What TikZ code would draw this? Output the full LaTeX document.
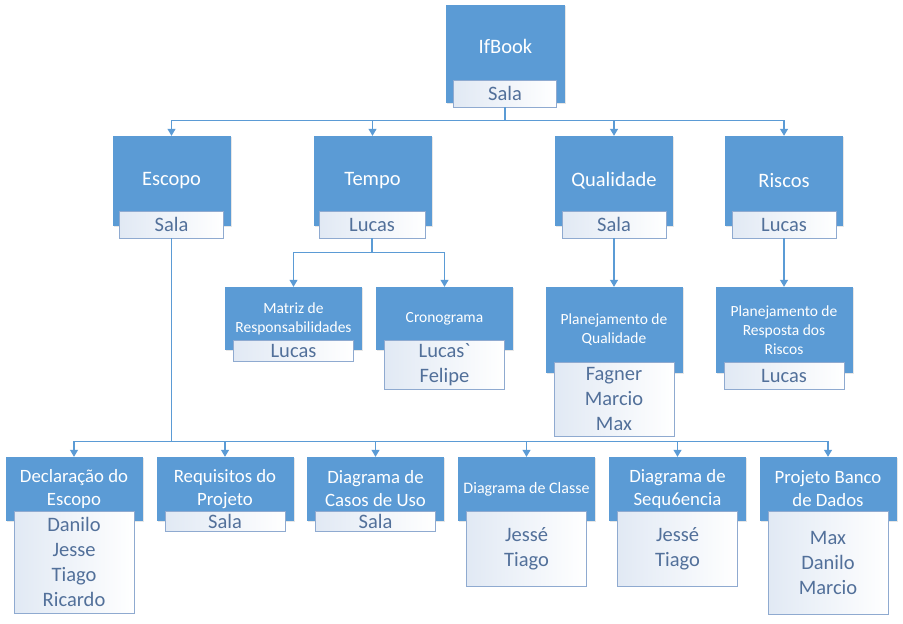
\documentclass[tikz,border=0pt]{standalone}
\usepackage{fontspec}
\setmainfont{Carlito}
\usepackage{tikz}
\usetikzlibrary{arrows.meta,shadows}
\usepackage{color}

\definecolor{wbsblue}{HTML}{5B9BD5}
\definecolor{wbsborder}{HTML}{8FAAD0}
\definecolor{wbspale}{HTML}{E1E9F4}
\definecolor{wbstext}{HTML}{52709A}

\newcommand{\wbstitle}{\fontsize{20.5}{23}\selectfont}
\newcommand{\wbslow}{\fontsize{18.8}{23}\selectfont}
\newcommand{\wbsname}{\fontsize{20.5}{25}\selectfont}
\newcommand{\wbssmall}{\fontsize{15.5}{18.8}\selectfont}

\tikzset{
  bluebox/.style 2 args={fill=wbsblue, text=white, minimum width=#1, minimum height=#2,
    inner sep=0pt, align=center, font=\wbstitle,
    drop shadow={shadow xshift=1.2pt, shadow yshift=-1.2pt, opacity=0.2}},
  namebox/.style 2 args={draw=wbsborder, line width=0.9pt, left color=wbspale, right color=white,
    text=wbstext, minimum width=#1, minimum height=#2, inner sep=0pt, align=center, font=\wbsname},
  link/.style={draw=wbsblue, line width=1.2pt},
  arrowlink/.style={link, -{Triangle[width=8pt,length=7pt]}},
}

\begin{document}
\begin{tikzpicture}[x=1pt, y=-1pt]
    \useasboundingbox (0,0) rectangle (903,624);
    % top
    \node[bluebox={119}{98}, text depth=15pt] (ifbook) at (505.5,54) {IfBook};
    \node[namebox={103}{27}] (ifbookw) at (505,93.5) {Sala};

    % second level
    \node[bluebox={118}{90}] (escopo) at (171.5,181) {Escopo};
    \node[namebox={104}{27}] (escopow) at (171.5,224.5) {Sala};
    \node[bluebox={118}{90}] (tempo) at (372.5,181) {Tempo};
    \node[namebox={106}{27}] (tempow) at (372,224.5) {Lucas};
    \node[bluebox={118}{90}] (qualidade) at (614,181) {Qualidade};
    \node[namebox={104}{27}] (qualidadew) at (614,224.5) {Sala};
    \node[bluebox={118}{90}] (riscos) at (784,181) {Riscos};
    \node[namebox={104}{27}] (riscosw) at (784,224.5) {Lucas};

    % third level
    \node[bluebox={137}{63}, font=\wbssmall] (matriz) at (293.5,318.5) {Matriz de\\Responsabilidades};
    \node[namebox={120}{21}] (matrizw) at (293.5,350.5) {Lucas};
    \node[bluebox={137}{63}, font=\wbssmall] (crono) at (444.5,318.5) {Cronograma};
    \node[namebox={120}{49}] (cronow) at (444.5,364.5) {Lucas\textasciigrave\\Felipe};
    \node[bluebox={137}{86}, font=\wbssmall] (planqual) at (614,330) {Planejamento de\\Qualidade};
    \node[namebox={120}{74}] (planqualw) at (614,399) {Fagner\\Marcio\\Max};
    \node[bluebox={137}{86}, font=\wbssmall] (planrisc) at (784,330) {Planejamento de\\Resposta dos\\Riscos};
    \node[namebox={120}{27}] (planriscw) at (784,375.5) {Lucas};

    % bottom level
    \node[bluebox={137}{64}, font=\wbslow] (declaracao) at (74,489) {Declaração do\\Escopo};
    \node[namebox={120}{102}] (declaracaow) at (74,562) {Danilo\\Jesse\\Tiago\\Ricardo};
    \node[bluebox={137}{64}, font=\wbslow] (requisitos) at (225,489) {Requisitos do\\Projeto};
    \node[namebox={120}{20}] (requisitosw) at (225,521) {Sala};
    \node[bluebox={137}{64}, font=\wbslow] (casos) at (375.5,489) {Diagrama de\\Casos de Uso};
    \node[namebox={120}{20}] (casosw) at (375.5,521) {Sala};
    \node[bluebox={137}{64}, font=\fontsize{16}{19}\selectfont] (classe) at (526.5,489) {Diagrama de Classe};
    \node[namebox={120}{75}] (classew) at (526.5,548.5) {Jessé\\Tiago};
    \node[bluebox={137}{64}, font=\wbslow] (sequencia) at (677.5,489) {Diagrama de\\Sequ6encia};
    \node[namebox={120}{75}] (sequenciaw) at (677.5,548.5) {Jessé\\Tiago};
    \node[bluebox={137}{64}, font=\wbslow] (banco) at (828,489) {Projeto Banco\\de Dados};
    \node[namebox={120}{103}] (bancow) at (828,562.5) {Max\\Danilo\\Marcio};

    % connectors
    \draw[link] (ifbookw.south) -- ++(0,13) coordinate (bus1);
    \draw[arrowlink] (bus1) -| (escopo.north);
    \draw[arrowlink] (bus1) -| (tempo.north);
    \draw[arrowlink] (bus1) -| (qualidade.north);
    \draw[arrowlink] (bus1) -| (riscos.north);

    \draw[link] (tempow.south) -- ++(0,14) coordinate (bus2);
    \draw[arrowlink] (bus2) -| (matriz.north);
    \draw[arrowlink] (bus2) -| (crono.north);

    \draw[arrowlink] (qualidadew.south) -- (planqual.north);
    \draw[arrowlink] (riscosw.south) -- (planrisc.north);

    \draw[link] (escopow.south) -- ++(0,203) coordinate (bus3);
    \draw[arrowlink] (bus3) -| (declaracao.north);
    \draw[arrowlink] (bus3) -| (requisitos.north);
    \draw[arrowlink] (bus3) -| (casos.north);
    \draw[arrowlink] (bus3) -| (classe.north);
    \draw[arrowlink] (bus3) -| (sequencia.north);
    \draw[arrowlink] (bus3) -| (banco.north);
\end{tikzpicture}
\end{document}
